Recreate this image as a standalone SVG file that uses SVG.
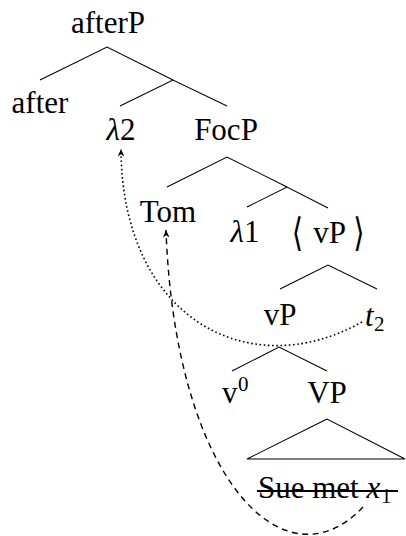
<svg xmlns="http://www.w3.org/2000/svg" width="406" height="536" viewBox="0 0 406 536">
<style>
text{font-family:"Liberation Serif","Times New Roman",serif;font-size:31px;fill:#000}
.m{text-anchor:middle}
.i{font-style:italic}
.s{font-size:21px}
.br{font-family:"DejaVu Serif","Liberation Serif",serif;font-size:29px}
.t{fill:none;stroke:#000;stroke-width:1.1}
.dot{fill:none;stroke:#000;stroke-width:1.6;stroke-dasharray:1.6 2.6}
.dash{fill:none;stroke:#000;stroke-width:1.4;stroke-dasharray:6 4.5}
</style>
<defs>
<marker id="arr" viewBox="-8 -4 9 8" refX="0" refY="0" markerWidth="9" markerHeight="8" orient="auto" markerUnits="userSpaceOnUse">
<path d="M0,0 L-7.5,-3.3 L-5.3,0 L-7.5,3.3 Z" fill="#000" stroke="none"/>
</marker>
</defs>
<g id="connectors">
<path class="t" d="M40,80 L107,47 L173,80"/>
<path class="t" d="M120,106 L173,80 L227,106"/>
<path class="t" d="M167,187 L227,157 L287,187"/>
<path class="t" d="M247,207 L287,187 L328,208"/>
<path class="t" d="M280,289 L328,265 L377,289"/>
<path class="t" d="M232,371 L279,347 L327,371"/>
<path class="t" d="M327,419 L247,459 L405,459 Z"/>
<path class="dot" d="M362,322 C250,385 122,320 121,149" marker-end="url(#arr)"/>
<path class="dash" d="M363,507 C285,590 175,480 166,230" marker-end="url(#arr)"/>
</g>
<g id="n-afterP"><text class="m" x="108" y="33">afterP</text></g>
<g id="n-after"><text class="m" x="40" y="113">after</text></g>
<g id="n-lambda2"><text class="m" x="121" y="140"><tspan class="i">λ</tspan>2</text></g>
<g id="n-FocP"><text class="m" x="226" y="140">FocP</text></g>
<g id="n-Tom"><text class="m" x="168" y="222">Tom</text></g>
<g id="n-lambda1"><text class="m" x="245" y="242"><tspan class="i">λ</tspan>1</text></g>
<g id="n-vP-copy">
<text class="br m" transform="translate(297.5,234) scale(1,1.35)" x="0" y="8.7">⟨</text>
<text class="m" x="329.5" y="243">vP</text>
<text class="br m" transform="translate(359,234) scale(1,1.35)" x="0" y="8.7">⟩</text>
</g>
<g id="n-vP"><text class="m" x="280" y="325">vP</text></g>
<g id="n-t2"><text x="365" y="326"><tspan class="i">t</tspan></text><text class="s" x="374" y="331">2</text></g>
<g id="n-v0"><text x="222" y="403">v</text><text class="s" x="238" y="391">0</text></g>
<g id="n-VP"><text class="m" x="327" y="403">VP</text></g>
<g id="n-SueMet">
<text x="258" y="498">Sue met <tspan class="i">x</tspan></text>
<text class="s" x="381" y="503">1</text>
<line x1="257" y1="491" x2="398" y2="491" stroke="#000" stroke-width="2"/>
</g>
</svg>
